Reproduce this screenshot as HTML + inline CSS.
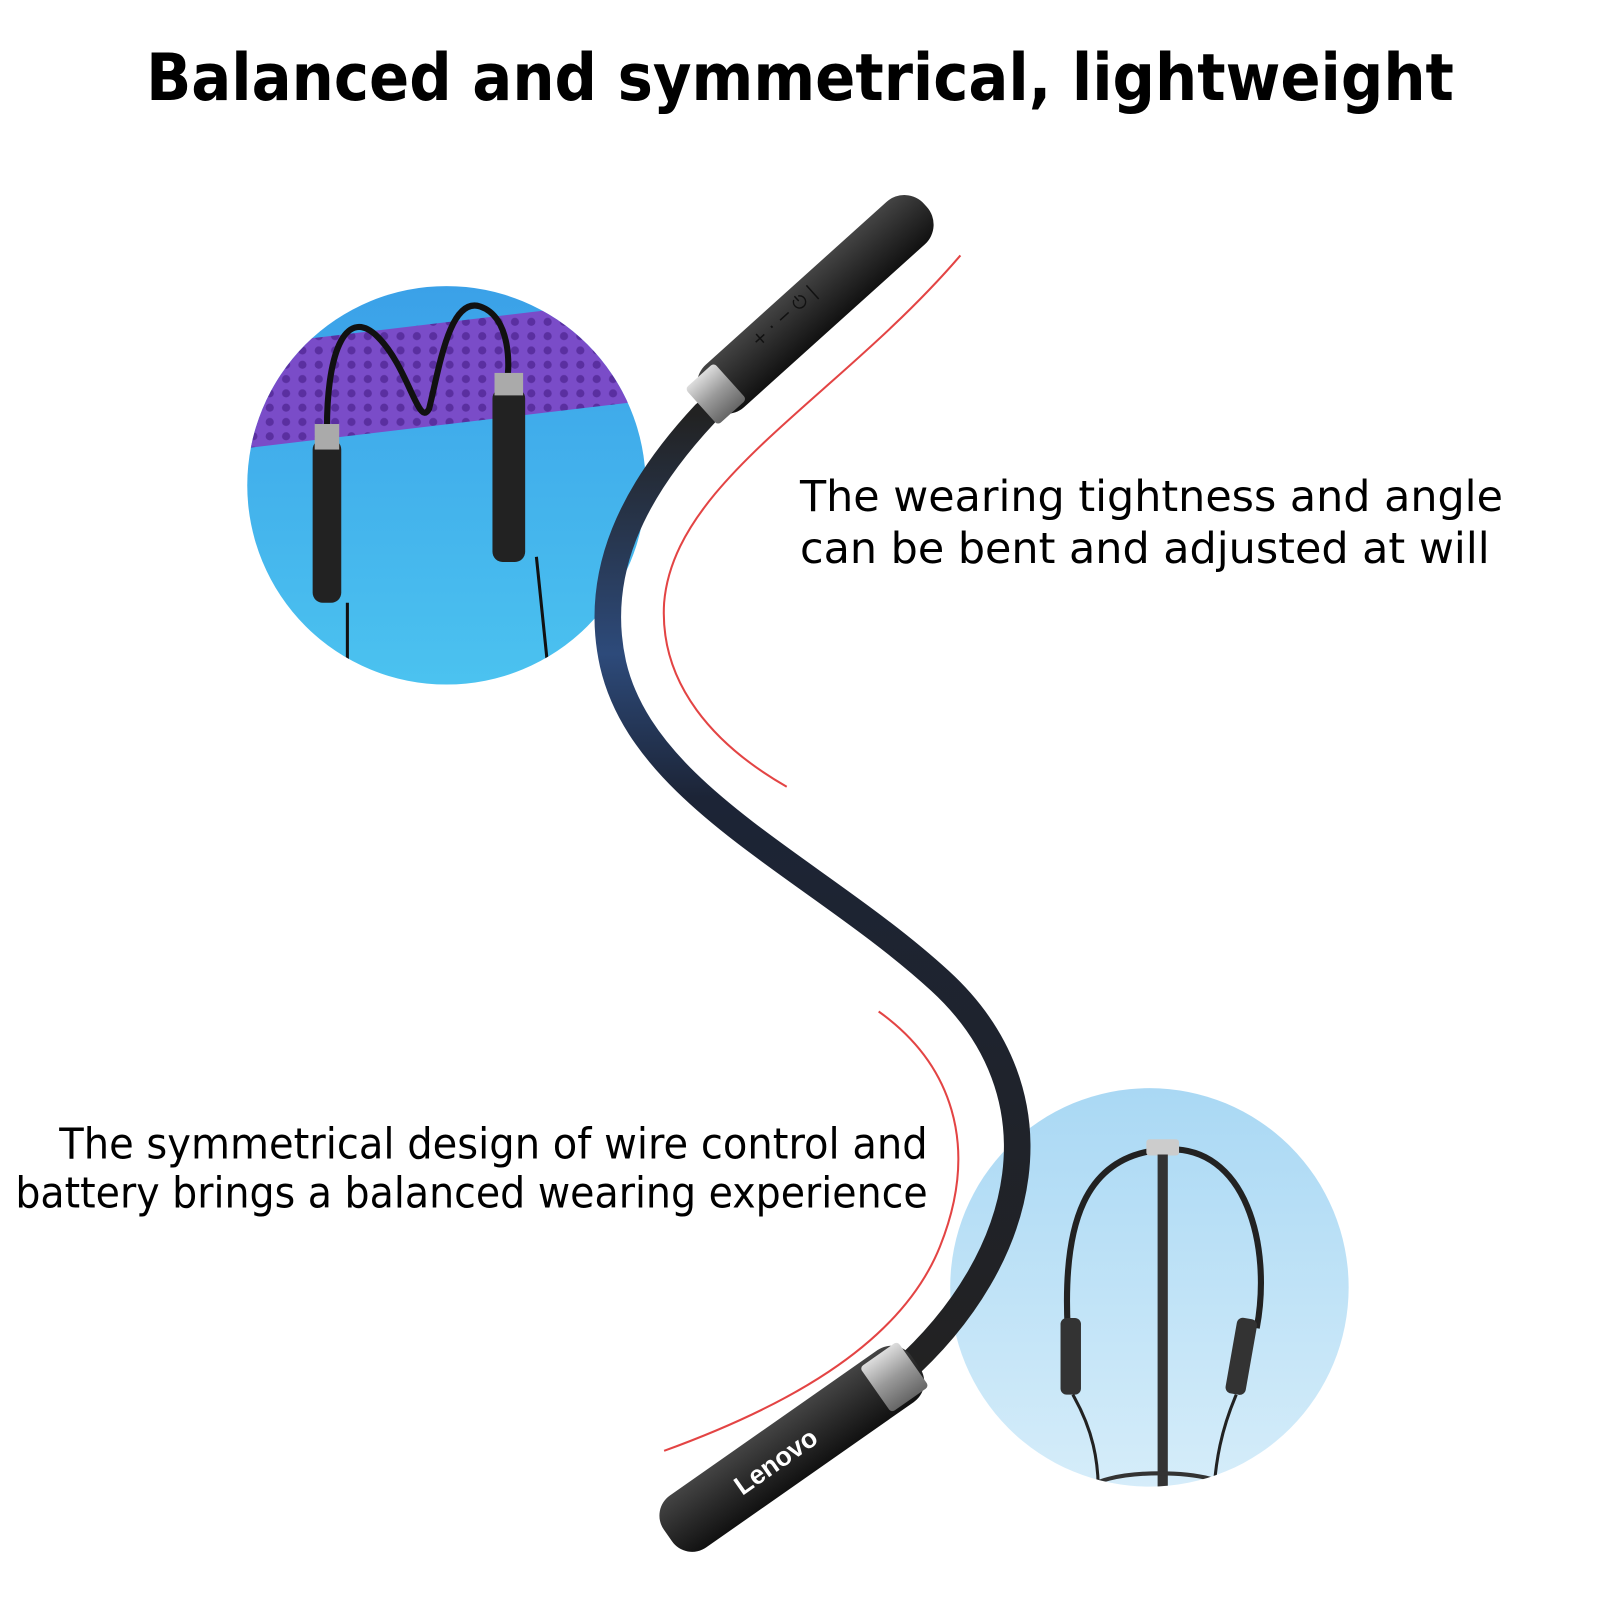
<!DOCTYPE html>
<html><head><style>html,body{margin:0;padding:0;background:#fff}svg{display:block}</style></head><body>
<svg width="1600" height="1600" viewBox="0 0 1566 1566" xmlns="http://www.w3.org/2000/svg">
<defs>
<linearGradient id="c1" x1="0" y1="0" x2="0" y2="1"><stop offset="0" stop-color="#3aa0e8"/><stop offset="1" stop-color="#4cc4f0"/></linearGradient>
<linearGradient id="c2" x1="0" y1="0" x2="0" y2="1"><stop offset="0" stop-color="#a9d8f4"/><stop offset="1" stop-color="#d8eefa"/></linearGradient>
<linearGradient id="cab" x1="0" y1="0" x2="0" y2="1"><stop offset="0" stop-color="#222"/><stop offset="0.25" stop-color="#2d4a7a"/><stop offset="0.4" stop-color="#1c2436"/><stop offset="1" stop-color="#222"/></linearGradient>
<linearGradient id="dev" x1="0" y1="0" x2="0" y2="1"><stop offset="0" stop-color="#444"/><stop offset="0.5" stop-color="#2a2a2a"/><stop offset="1" stop-color="#111"/></linearGradient>
<linearGradient id="sil" x1="0" y1="0" x2="0" y2="1"><stop offset="0" stop-color="#ddd"/><stop offset="0.5" stop-color="#999"/><stop offset="1" stop-color="#666"/></linearGradient>
<clipPath id="k1"><circle cx="437" cy="475" r="195"/></clipPath>
<clipPath id="k2"><circle cx="1125" cy="1260" r="195"/></clipPath>
<pattern id="dots" width="16" height="14" patternUnits="userSpaceOnUse"><rect width="16" height="14" fill="#7a4cc8"/><circle cx="8" cy="7" r="4" fill="#5a2fa0"/></pattern>
</defs>
<text x="143" y="98" textLength="1280" lengthAdjust="spacingAndGlyphs" font-family="DejaVu Sans, sans-serif" font-weight="bold" font-size="64" fill="#000">Balanced and symmetrical, lightweight</text>
<text x="783" y="500" textLength="688" lengthAdjust="spacingAndGlyphs" font-family="DejaVu Sans, sans-serif" font-size="42" fill="#000">The wearing tightness and angle</text>
<text x="783" y="551" textLength="675" lengthAdjust="spacingAndGlyphs" font-family="DejaVu Sans, sans-serif" font-size="42" fill="#000">can be bent and adjusted at will</text>
<text x="58" y="1134" textLength="850" lengthAdjust="spacingAndGlyphs" font-family="DejaVu Sans, sans-serif" font-size="42" fill="#000">The symmetrical design of wire control and</text>
<text x="15" y="1182" textLength="893" lengthAdjust="spacingAndGlyphs" font-family="DejaVu Sans, sans-serif" font-size="42" fill="#000">battery brings a balanced wearing experience</text>
<!-- circle 1 -->
<g clip-path="url(#k1)">
<rect x="230" y="270" width="420" height="420" fill="url(#c1)"/>
<polygon points="230,340 650,290 650,390 230,440" fill="url(#dots)"/>
<path d="M320,420 C320,340 340,300 370,330 C400,360 410,420 420,400 C430,360 440,290 470,300 C500,310 500,360 495,380" stroke="#111" stroke-width="6" fill="none"/>
<rect x="306" y="430" width="28" height="160" rx="10" fill="#222"/>
<rect x="308" y="415" width="24" height="25" fill="#aaa"/>
<line x1="340" y1="590" x2="340" y2="690" stroke="#111" stroke-width="3"/>
<rect x="482" y="380" width="32" height="170" rx="10" fill="#222"/>
<rect x="484" y="365" width="28" height="22" fill="#aaa"/>
<line x1="525" y1="545" x2="540" y2="690" stroke="#111" stroke-width="3"/>
</g>
<!-- circle 2 -->
<g clip-path="url(#k2)">
<rect x="920" y="1060" width="420" height="420" fill="url(#c2)"/>
<path d="M1045,1300 C1040,1200 1060,1130 1140,1125 C1220,1120 1245,1220 1230,1300" stroke="#222" stroke-width="6" fill="none"/>
<rect x="1122" y="1115" width="32" height="16" rx="3" fill="#ccc"/>
<line x1="1138" y1="1130" x2="1138" y2="1460" stroke="#333" stroke-width="10"/>
<rect x="1038" y="1290" width="20" height="75" rx="6" fill="#333"/>
<rect x="1205" y="1290" width="20" height="75" rx="6" fill="#333" transform="rotate(10 1215 1327)"/>
<path d="M1050,1365 C1070,1400 1075,1430 1075,1460" stroke="#222" stroke-width="3" fill="none"/>
<path d="M1210,1365 C1195,1400 1190,1430 1188,1460" stroke="#222" stroke-width="3" fill="none"/>
<ellipse cx="1135" cy="1460" rx="70" ry="18" stroke="#333" stroke-width="4" fill="none"/>
</g>
<!-- red lines -->
<path d="M940,250 C820,390 660,470 650,590 C645,670 700,730 770,770" stroke="#e03030" stroke-width="2" fill="none" opacity="0.9"/>
<path d="M860,990 C930,1040 960,1120 920,1220 C880,1320 760,1380 650,1420" stroke="#e03030" stroke-width="2" fill="none" opacity="0.9"/>
<!-- cable -->
<path d="M690,405 C620,480 580,560 600,650 C630,780 800,850 920,960 C1040,1070 1010,1230 880,1345" stroke="url(#cab)" stroke-width="26" fill="none" stroke-linecap="round"/>
<!-- top device -->
<g transform="translate(798,298) rotate(-42)">
<rect x="-145" y="-28" width="290" height="56" rx="26" fill="url(#dev)"/>
<rect x="-150" y="-24" width="38" height="48" rx="4" fill="url(#sil)"/>
<text x="-70" y="-6" font-family="DejaVu Sans, sans-serif" font-size="18" fill="#111">+ · − ⏻   |</text>
</g>
<!-- bottom device -->
<g transform="translate(775,1418) rotate(-35)">
<rect x="-148" y="-31" width="296" height="62" rx="24" fill="url(#dev)"/>
<rect x="100" y="-27" width="45" height="54" rx="4" fill="url(#sil)"/>
<text x="-20" y="10" text-anchor="middle" font-family="Liberation Sans, sans-serif" font-weight="bold" font-size="26" fill="#fff">Lenovo</text>
</g>
</svg>
</body></html>
